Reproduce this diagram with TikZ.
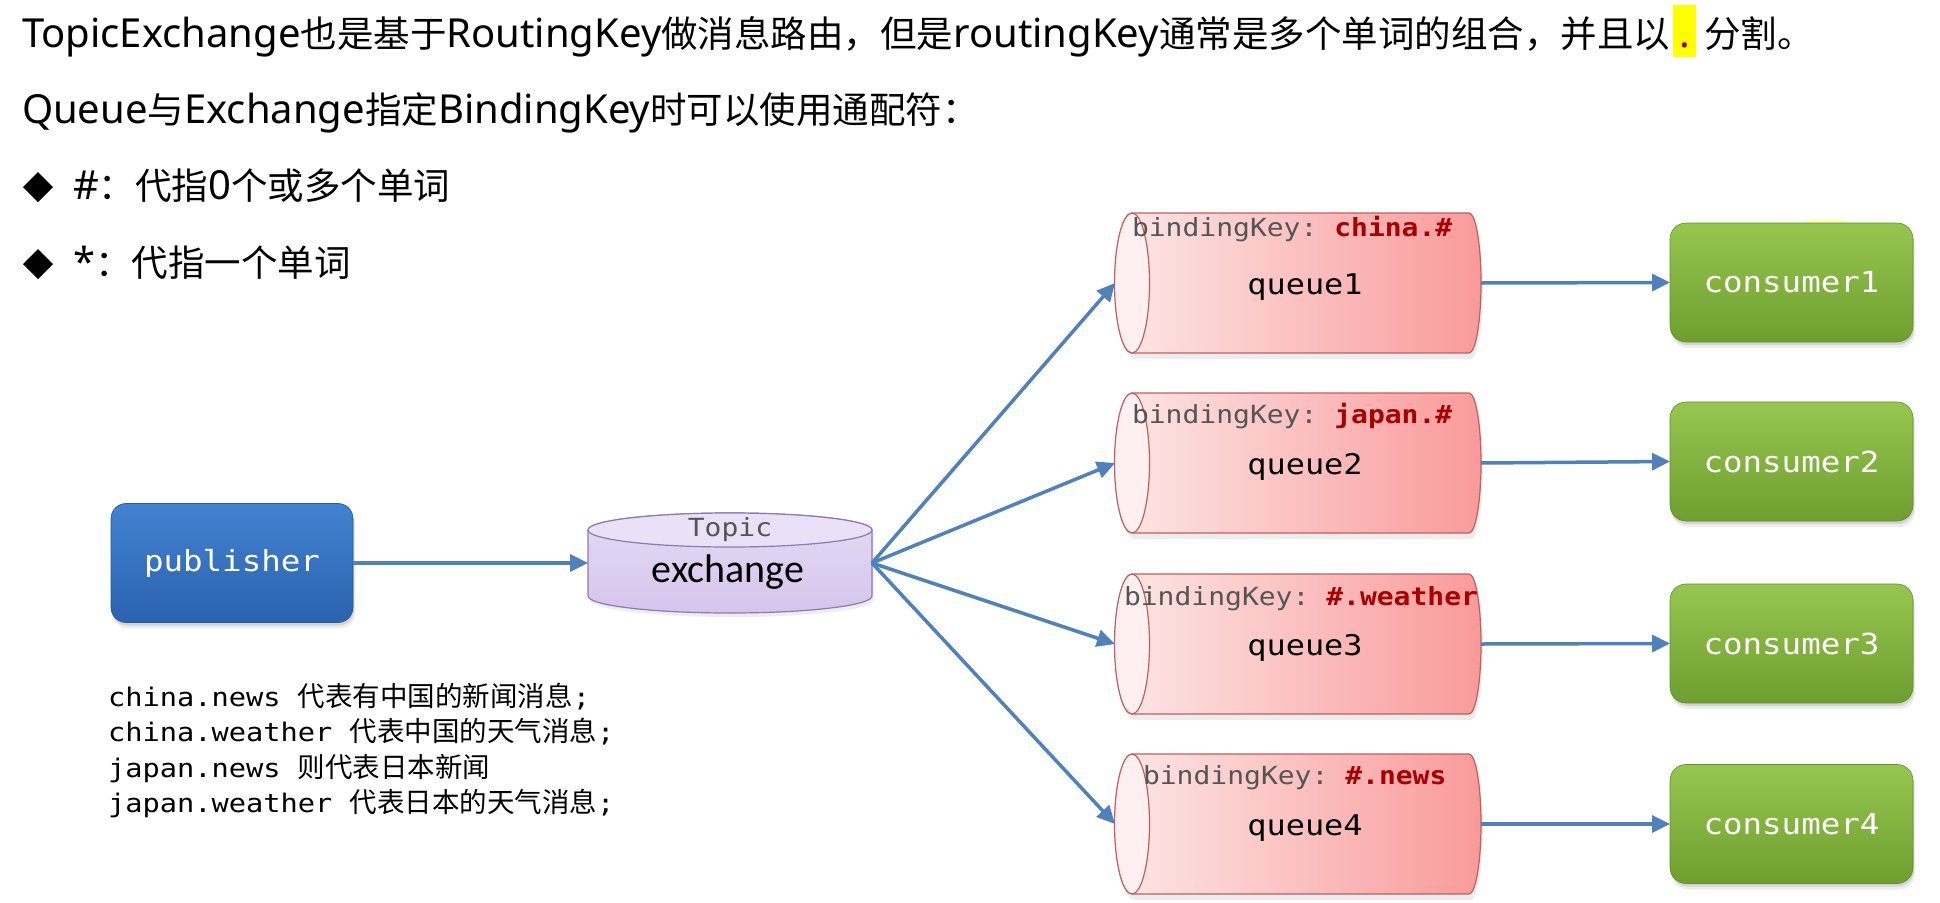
\documentclass[tikz,border=0pt]{standalone}
\usepackage{fontspec}
\setmainfont{Noto Sans}
\newfontfamily\zhfont{Noto Sans CJK SC}
\newfontfamily\monofont[FakeStretch=1.12]{DejaVu Sans Mono}
\newfontfamily\califont{Carlito}
\usetikzlibrary{arrows.meta,shadows}

\definecolor{arrowblue}{HTML}{4F81BD}
\definecolor{pubTop}{HTML}{4282D0}
\definecolor{pubBot}{HTML}{2A62AE}
\definecolor{conTop}{HTML}{97C650}
\definecolor{conBot}{HTML}{6E9E2E}
\definecolor{qleft}{HTML}{FDE7E7}
\definecolor{qright}{HTML}{FA9A9A}
\definecolor{qend}{HTML}{FEF0F1}
\definecolor{qborder}{HTML}{BF5F5F}
\definecolor{exTop}{HTML}{E6DBF5}
\definecolor{exBot}{HTML}{D5C4EC}
\definecolor{exCap}{HTML}{EAE1F7}
\definecolor{exBorder}{HTML}{8C7BAE}
\definecolor{keygray}{HTML}{555555}
\definecolor{keyred}{HTML}{A60000}
\definecolor{hlyellow}{HTML}{FFFF00}
\definecolor{dotred}{HTML}{A00000}

% Chinese runs inside Latin text
\newcommand\zh[1]{{\zhfont\fontsize{36.5}{44}\selectfont#1}}
\newcommand\zs[1]{{\zhfont\fontsize{27.5}{35}\selectfont#1}}
% highlighted separator dot
\newcommand\hlmark{\textcolor{hlyellow}{\rule[-10pt]{23pt}{52pt}}\hspace{-23pt}\makebox[23pt]{\textcolor{dotred}{\bfseries .}}}
% binding key label of a queue
\newcommand\keytext[1]{\textcolor{keygray}{bindingKey:}\ \textcolor{keyred}{\bfseries #1}}

% horizontal queue cylinder centred at height #1
\newcommand\queuecyl[1]{%
  \fill[black, opacity=0.07] (1134,#1-68) -- (1471,#1-68) arc[start angle=90,end angle=-90,x radius=12pt,y radius=72pt] -- (1134,#1+76) arc[start angle=270,end angle=90,x radius=17pt,y radius=72pt] -- cycle;
  \shade[left color=qleft, right color=qright, draw=qborder, line width=1.2pt]
    (1132,#1-70) -- (1469,#1-70) arc[start angle=90,end angle=-90,x radius=12pt,y radius=70pt]
    -- (1132,#1+70) arc[start angle=270,end angle=90,x radius=17pt,y radius=70pt] -- cycle;
  \draw[qborder, fill=qend, line width=1.2pt] (1132,#1) ellipse [x radius=17.5pt, y radius=70pt];
}

\tikzset{
  every node/.style={inner sep=0pt, outer sep=0pt},
  softshadow/.style={
    general shadow={fill=black, opacity=0.10, shadow xshift=1pt, shadow yshift=-3pt},
    general shadow={fill=black, opacity=0.07, shadow xshift=2pt, shadow yshift=-6pt}},
  arr/.style={draw=arrowblue, line width=3.5pt, -{Triangle[length=18pt,width=17pt]}},
  maintext/.style={anchor=base west, font=\fontsize{40}{46}\selectfont},
  pubbox/.style={rounded corners=15pt, minimum width=242pt, minimum height=119pt,
    top color=pubTop, bottom color=pubBot, draw=pubBot!90!black, line width=0.6pt,
    text=white, font=\monofont\fontsize{29}{34}\selectfont, softshadow},
  conbox/.style={rounded corners=16pt, minimum width=243pt, minimum height=119pt,
    top color=conTop, bottom color=conBot, draw=conBot!90!black, line width=0.6pt,
    text=white, font=\monofont\fontsize{29}{34}\selectfont, softshadow},
  qbox/.style={minimum width=366pt, minimum height=140pt},
  qname/.style={font=\monofont\fontsize{28.5}{34}\selectfont},
  keylabel/.style={anchor=base west, font=\monofont\fontsize{25}{30}\selectfont},
  notetext/.style={anchor=base west, font=\monofont\fontsize{25.6}{35}\selectfont},
}

\begin{document}
\begin{tikzpicture}[x=1pt, y=-1pt]
\useasboundingbox (0,0) rectangle (1940,902);
\fill[white] (0,0) rectangle (1940,902);

% ---- heading text ----
\node[maintext] (t1) at (22,47) {TopicExchange\zh{也是基于}RoutingKey\zh{做消息路由，但是}routingKey\zh{通常是多个单词的组合，并且以}\hspace{3pt}\hlmark\hspace{8pt}\zh{分割。}};
\node[maintext] (t2) at (22,123) {Queue\zh{与}Exchange\zh{指定}BindingKey\zh{时可以使用通配符：}};
\fill (38,172) -- (53,187) -- (38,202) -- (23,187) -- cycle;
\node[maintext] (b1) at (73,199) {\#\zh{：代指}0\zh{个或多个单词}};
\fill (38,249) -- (53,264) -- (38,279) -- (23,264) -- cycle;
\node[maintext] (b2) at (73,276) {*\zh{：代指一个单词}};

% ---- publisher ----
\node[pubbox] (pub) at (232,563) {publisher};

% ---- exchange cylinder ----
\fill[black, opacity=0.07] (590,534) -- (590,600) arc[start angle=180,end angle=360,x radius=142pt,y radius=17pt] -- (874,534) -- cycle;
\shade[top color=exTop, bottom color=exBot, draw=exBorder, line width=1.2pt]
  (588,530) -- (588,596) arc[start angle=180,end angle=360,x radius=142pt,y radius=17pt]
  -- (872,530) arc[start angle=0,end angle=180,x radius=142pt,y radius=17pt] -- cycle;
\draw[exBorder, fill=exCap, line width=1.2pt] (730,530) ellipse [x radius=142pt, y radius=17pt];
\node (ex) at (730,563) [minimum width=284pt, minimum height=100pt] {};
\node[anchor=base, text=keygray, font=\monofont\fontsize{25}{28}\selectfont] (extype) at (730,536) {Topic};
\node[anchor=base, font=\califont\fontsize{40}{46}\selectfont] (exname) at (728,582) {exchange};

% ---- queues ----
\queuecyl{283}
\queuecyl{463}
\queuecyl{644}
\queuecyl{824}
\node[qbox] (q1) at (1298,283) {};
\node[qbox] (q2) at (1298,463) {};
\node[qbox] (q3) at (1298,644) {};
\node[qbox] (q4) at (1298,824) {};
\node[qname] (q1name) at (1305,287) {queue1};
\node[qname] (q2name) at (1305,467) {queue2};
\node[qname] (q3name) at (1305,648) {queue3};
\node[qname] (q4name) at (1305,828) {queue4};
\node[keylabel] (k1) at (1132,236) {\keytext{china.\#}};
\node[keylabel] (k2) at (1132,423) {\keytext{japan.\#}};
\node[keylabel] (k3) at (1124,605) {\keytext{\#.weather}};
\node[keylabel] (k4) at (1143,784) {\keytext{\#.news}};

% ---- consumers ----
\fill[hlyellow, opacity=0.22] (1826,222) ellipse [x radius=22pt, y radius=3.5pt];
\node[conbox] (c1) at (1791.5,282.5) {consumer1};
\node[conbox] (c2) at (1791.5,461.5) {consumer2};
\node[conbox] (c3) at (1791.5,643.5) {consumer3};
\node[conbox] (c4) at (1791.5,824) {consumer4};

% ---- routing-key notes ----
\node[notetext] (n1) at (108,706) {china.news \zs{代表有中国的新闻消息};};
\node[notetext] (n2) at (108,741) {china.weather \zs{代表中国的天气消息};};
\node[notetext] (n3) at (108,777) {japan.news \zs{则代表日本新闻}};
\node[notetext] (n4) at (108,812) {japan.weather \zs{代表日本的天气消息};};

% ---- message flow ----
\draw[arr] (pub.east) -- (ex.west);
\foreach \q in {q1,q2,q3,q4} \draw[arr] (ex.east) -- (\q.west);
\draw[arr] (q1.east) -- (c1.west);
\draw[arr] (q2.east) -- (c2.west);
\draw[arr] (q3.east) -- (c3.west);
\draw[arr] (q4.east) -- (c4.west);
\end{tikzpicture}
\end{document}
